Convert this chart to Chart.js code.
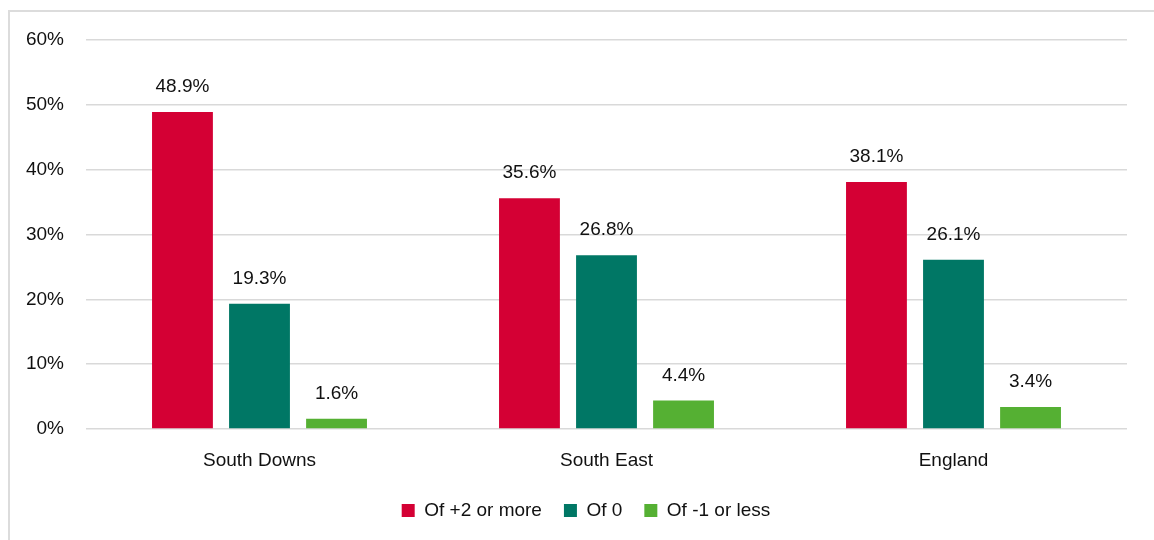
<!DOCTYPE html>
<html>
<head>
<meta charset="utf-8">
<script src="https://cdn.jsdelivr.net/npm/chart.js@4/dist/chart.umd.min.js"></script>
<style>
  html, body { margin: 0; padding: 0; background: #ffffff; }
  #wrap { position: relative; width: 1154px; height: 540px; overflow: hidden; }
  #frame { position: absolute; left: 8px; top: 10px; width: 1200px; height: 600px;
           border-left: 2px solid #dcdcdc; border-top: 2px solid #dcdcdc; box-sizing: border-box; }
  canvas { position: absolute; left: 0; top: 0; }
</style>
</head>
<body>
<div id="wrap">
  <div id="frame"></div>
  <canvas id="c" width="1154" height="540"></canvas>
</div>
<script>
const categories = ["South Downs", "South East", "England"];
const seriesNames = ["Of +2 or more", "Of 0", "Of -1 or less"];
const plus2 = [48.9, 35.6, 38.1];
const zero = [19.3, 26.8, 26.1];
const minus1 = [1.6, 4.4, 3.4];
const yTicks = [0, 10, 20, 30, 40, 50, 60];
const colors = ["#D40034", "#007765", "#55B033"];

const FONT = "'Liberation Sans', Arial, sans-serif";
Chart.defaults.font.family = FONT;
Chart.defaults.color = "#111111";

const dataLabels = {
  id: "dataLabels",
  afterDatasetsDraw(chart) {
    const ctx = chart.ctx;
    ctx.save();
    ctx.font = "19px " + FONT;
    ctx.fillStyle = "#111111";
    ctx.textAlign = "center";
    ctx.textBaseline = "middle";
    chart.data.datasets.forEach((ds, i) => {
      const meta = chart.getDatasetMeta(i);
      meta.data.forEach((bar, j) => {
        ctx.fillText(ds.data[j].toFixed(1) + "%", bar.x, bar.y - 25);
      });
    });
    ctx.restore();
  }
};

new Chart(document.getElementById("c"), {
  type: "bar",
  data: {
    labels: categories,
    datasets: [
      { label: seriesNames[0], data: plus2, backgroundColor: colors[0] },
      { label: seriesNames[1], data: zero, backgroundColor: colors[1] },
      { label: seriesNames[2], data: minus1, backgroundColor: colors[2] }
    ]
  },
  options: {
    responsive: false,
    animation: false,
    devicePixelRatio: 1,
    layout: { padding: { left: 18, right: 0, top: 40, bottom: 10 } },
    datasets: { bar: { barPercentage: 0.79, categoryPercentage: 0.666 } },
    plugins: {
      tooltip: { enabled: false },
      legend: {
        position: "bottom",
        labels: {
          font: { size: 19 },
          color: "#111111",
          boxWidth: 13,
          boxHeight: 13,
          padding: 22
        }
      }
    },
    scales: {
      x: {
        grid: { display: false, drawTicks: false },
        border: { display: false },
        ticks: { font: { size: 19 }, color: "#111111", padding: 20 },
        afterFit(s) { s.height = 50; }
      },
      y: {
        min: 0,
        max: 60,
        afterBuildTicks(s) { s.ticks = yTicks.map(v => ({ value: v })); },
        grid: { color: "#d9d9d9", lineWidth: 1.5, drawTicks: false },
        border: { display: false },
        ticks: { font: { size: 19 }, color: "#111111", padding: 22, callback: v => v + "%" },
        afterFit(s) { s.width = 68; }
      },
      yRight: {
        position: "right",
        display: true,
        min: 0,
        max: 60,
        grid: { display: false, drawTicks: false },
        border: { display: false },
        ticks: { display: false },
        afterFit(s) { s.width = 27; }
      }
    }
  },
  plugins: [dataLabels]
});
</script>
</body>
</html>
